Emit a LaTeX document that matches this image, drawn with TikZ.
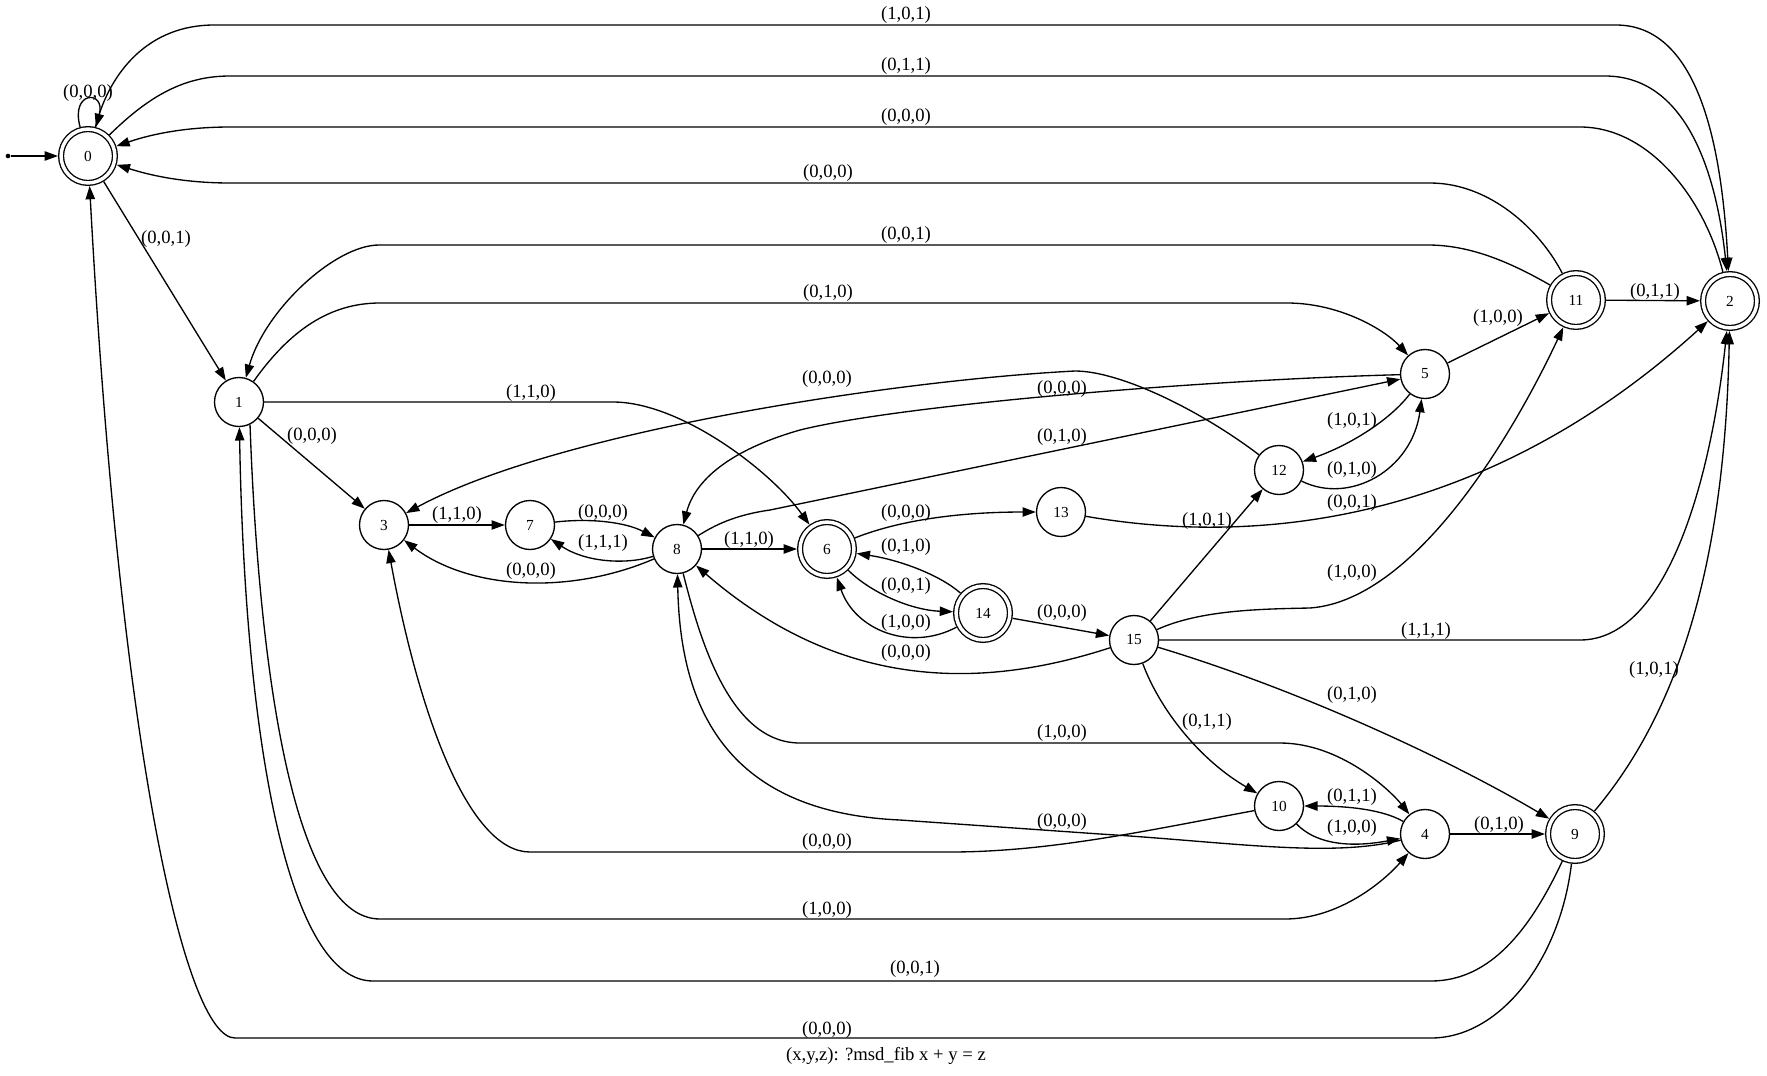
\documentclass[tikz,border=0pt]{standalone}
\usepackage{fontspec}
\setmainfont{Liberation Serif}
\usetikzlibrary{automata, arrows.meta}
\tikzset{
  fibaut/.style={
	->, % every connector is directed
	>={Triangle[length=10pt, width=7pt]}, % filled heads as in dot
	x=0.75pt, y=-0.75pt, % coordinates are layout pixels, y grows downwards
	line width=1pt,
	every state/.style={draw, circle, minimum size=36.75pt, inner sep=0pt, font=\fontsize{11.5}{13}\selectfont}, % plain states
	accepting/.style={double, double distance=2.6pt, minimum size=40.4pt, outer sep=2.3pt}, % double ring for final states
  },
  lbl/.style={inner sep=0pt, font=\fontsize{14}{16}\selectfont}, % edge labels
  dot/.style={circle, fill, inner sep=0pt, minimum size=3.5pt}, % start point
}
\begin{document}
\begin{tikzpicture}[fibaut]
\useasboundingbox (0,0) rectangle (1767,1075);

\node[dot] (init) at (8,156) {};
\node[state, accepting] (n0) at (88,156) {0};
\node[state] (n1) at (239,402) {1};
\node[state, accepting] (n2) at (1730,301) {2};
\node[state] (n3) at (384,525) {3};
\node[state] (n4) at (1425,834) {4};
\node[state] (n5) at (1425,374) {5};
\node[state, accepting] (n6) at (827,549) {6};
\node[state] (n7) at (530,525) {7};
\node[state] (n8) at (677,549) {8};
\node[state, accepting] (n9) at (1575,834) {9};
\node[state] (n10) at (1279,806) {10};
\node[state, accepting] (n11) at (1576,300) {11};
\node[state] (n12) at (1279,470) {12};
\node[state] (n13) at (1061,512) {13};
\node[state, accepting] (n14) at (983,613) {14};
\node[state] (n15) at (1134,640) {15};
\node[lbl] (caption) at (886,1056) {(x,y,z): ?msd\_fib x + y = z};

% straight transitions
\draw (init) -- (n0);
\draw (n0) -- (n1) node[lbl, at={(166,239)}] {(0,0,1)};
\draw (n1) -- (n3) node[lbl, at={(312,436)}] {(0,0,0)};
\draw (n3) -- (n7) node[lbl, at={(457,515)}] {(1,1,0)};
\draw (n8) -- (n6) node[lbl, at={(749,540)}] {(1,1,0)};
\draw (n14) -- (n15) node[lbl, at={(1062,613)}] {(0,0,0)};
\draw (n15) -- (n12) node[lbl, at={(1207,521)}] {(1,0,1)};
\draw (n5) -- (n11) node[lbl, at={(1498,318)}] {(1,0,0)};
\draw (n11) -- (n2) node[lbl, at={(1655,292)}] {(0,1,1)};
\draw (n4) -- (n9) node[lbl, at={(1499,825)}] {(0,1,0)};

% loop on 0
\draw (n0) .. controls (70,90) and (106,90) .. (n0) node[lbl, at={(88,93)}] {(0,0,0)};

% long arcs over the top
\draw (n0) .. controls (110,70) and (150,25) .. (214,25) -- (1616,25) .. controls (1700,25) and (1722,150) .. (n2) node[lbl, at={(906,15)}] {(1,0,1)};
\draw (n0) .. controls (150,95) and (185,76) .. (230,76) -- (1605,76) .. controls (1685,76) and (1716,170) .. (n2) node[lbl, at={(906,66)}] {(0,1,1)};
\draw (n2) .. controls (1705,200) and (1650,127) .. (1580,127) -- (230,127) .. controls (175,127) and (140,138) .. (n0) node[lbl, at={(906,117)}] {(0,0,0)};
\draw (n11) .. controls (1540,230) and (1490,183) .. (1430,183) -- (230,183) .. controls (175,183) and (140,172) .. (n0) node[lbl, at={(828,173)}] {(0,0,0)};
\draw (n11) .. controls (1510,262) and (1470,245) .. (1428,245) -- (379,245) .. controls (335,245) and (265,310) .. (n1) node[lbl, at={(906,235)}] {(0,0,1)};
\draw (n1) .. controls (290,330) and (330,303) .. (380,303) -- (1287,303) .. controls (1340,303) and (1385,330) .. (n5) node[lbl, at={(828,293)}] {(0,1,0)};
\draw (n1) -- (613,402) .. controls (680,402) and (770,470) .. (n6) node[lbl, at={(531,393)}] {(1,1,0)};

% middle band
\draw (n12) .. controls (1200,410) and (1120,371) .. (1075,371) .. controls (900,380) and (560,430) .. (n3) node[lbl, at={(827,379)}] {(0,0,0)};
\draw (n5) .. controls (1200,380) and (900,405) .. (800,430) .. controls (730,450) and (695,480) .. (n8) node[lbl, at={(1062,389)}] {(0,0,0)};
\draw (n8) .. controls (715,525) and (735,515) .. (770,510) -- (n5) node[lbl, at={(1062,437)}] {(0,1,0)};
\draw (n5) .. controls (1390,420) and (1350,445) .. (n12) node[lbl, at={(1352,421)}] {(1,0,1)};
\draw (n12) .. controls (1350,505) and (1412,470) .. (n5) node[lbl, at={(1352,470)}] {(0,1,0)};
\draw (n13) .. controls (1280,550) and (1500,510) .. (n2) node[lbl, at={(1352,503)}] {(0,0,1)};
\draw (n7) .. controls (590,518) and (625,522) .. (n8) node[lbl, at={(603,513)}] {(0,0,0)};
\draw (n8) .. controls (625,565) and (585,562) .. (n7) node[lbl, at={(603,543)}] {(1,1,1)};
\draw (n8) .. controls (570,595) and (470,590) .. (n3) node[lbl, at={(531,571)}] {(0,0,0)};
\draw (n6) .. controls (900,520) and (960,512) .. (n13) node[lbl, at={(906,513)}] {(0,0,0)};
\draw (n14) .. controls (940,575) and (900,560) .. (n6) node[lbl, at={(906,547)}] {(0,1,0)};
\draw (n6) .. controls (870,592) and (910,610) .. (n14) node[lbl, at={(906,586)}] {(0,0,1)};
\draw (n14) .. controls (910,652) and (855,630) .. (n6) node[lbl, at={(906,623)}] {(1,0,0)};
\draw (n15) .. controls (980,690) and (840,690) .. (n8) node[lbl, at={(906,653)}] {(0,0,0)};
\draw (n15) .. controls (1200,610) and (1260,609) .. (1310,608) .. controls (1420,600) and (1520,420) .. (n11) node[lbl, at={(1352,573)}] {(1,0,0)};
\draw (n15) -- (1580,640) .. controls (1670,640) and (1712,470) .. (n2) node[lbl, at={(1426,631)}] {(1,1,1)};
\draw (n15) .. controls (1300,690) and (1450,760) .. (n9) node[lbl, at={(1352,695)}] {(0,1,0)};
\draw (n15) .. controls (1160,710) and (1200,760) .. (n10) node[lbl, at={(1207,722)}] {(0,1,1)};
\draw (n9) .. controls (1680,710) and (1725,560) .. (n2) node[lbl, at={(1654,670)}] {(1,0,1)};

% lower band
\draw (n8) .. controls (700,640) and (730,743) .. (800,743) -- (1280,743) .. controls (1340,743) and (1390,790) .. (n4) node[lbl, at={(1062,733)}] {(1,0,0)};
\draw (n4) .. controls (1380,808) and (1340,806) .. (n10) node[lbl, at={(1352,797)}] {(0,1,1)};
\draw (n10) .. controls (1320,848) and (1360,846) .. (n4) node[lbl, at={(1352,828)}] {(1,0,0)};
\draw (n4) .. controls (1330,858) and (1230,842) .. (1100,834) -- (900,820) .. controls (720,812) and (680,700) .. (n8) node[lbl, at={(1062,822)}] {(0,0,0)};
\draw (n10) .. controls (1150,830) and (1050,852) .. (950,852) -- (530,852) .. controls (470,852) and (420,720) .. (n3) node[lbl, at={(827,842)}] {(0,0,0)};
\draw (n1.296) .. controls (258,650) and (290,919) .. (380,919) -- (1285,919) .. controls (1340,919) and (1385,880) .. (n4) node[lbl, at={(827,910)}] {(1,0,0)};
\draw (n9) .. controls (1530,930) and (1490,981) .. (1431,981) -- (373,981) .. controls (290,981) and (245,750) .. (n1) node[lbl, at={(915,969)}] {(0,0,1)};
\draw (n9) .. controls (1560,960) and (1500,1038) .. (1431,1038) -- (235,1038) .. controls (185,1038) and (120,750) .. (n0) node[lbl, at={(827,1030)}] {(0,0,0)};
\end{tikzpicture}
\end{document}
